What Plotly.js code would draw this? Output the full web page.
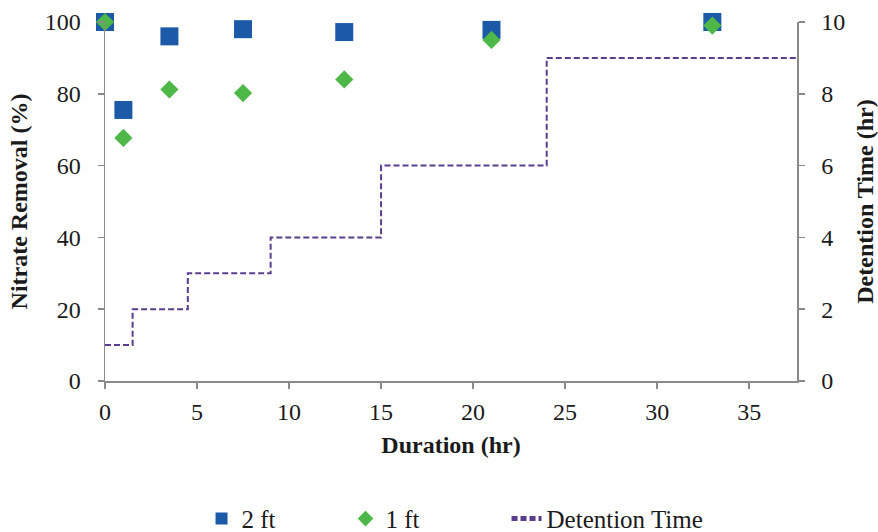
<!DOCTYPE html>
<html>
<head>
<meta charset="utf-8">
<script src="https://cdn.plot.ly/plotly-3.0.1.min.js"></script>
<style>html,body{margin:0;padding:0;background:#fff;}#chart{width:878px;height:532px;}</style>
</head>
<body>
<div id="chart"></div>
<script>
// Data
const durationHr = [0, 1, 3.5, 7.5, 13, 21, 33];
const removal2ft = [100, 75.5, 96, 98, 97.2, 97.8, 100];
const removal1ft = [100, 67.7, 81.2, 80.2, 84, 95, 99];
const detentionX = [0, 1.5, 4.5, 9, 15, 24, 37.6];
const detentionHr = [1, 2, 3, 4, 6, 9, 9];
const seriesNames = ['2 ft', '1 ft', 'Detention Time'];
const xTicks = [0, 5, 10, 15, 20, 25, 30, 35];
const yTicks = [0, 20, 40, 60, 80, 100];
const y2Ticks = [0, 2, 4, 6, 8, 10];

const font = "'Liberation Serif', 'Times New Roman', serif";
const axisColor = '#8a8a8a';
const textColor = '#1a1a1a';

const traces = [
  {
    x: durationHr, y: removal2ft, name: seriesNames[0], type: 'scatter', mode: 'markers',
    marker: {symbol: 'square', size: 18, color: '#1c5aa8'}, cliponaxis: false,
    legendwidth: 99
  },
  {
    x: durationHr, y: removal1ft, name: seriesNames[1], type: 'scatter', mode: 'markers',
    marker: {symbol: 'diamond', size: 14, color: '#4db848'}, cliponaxis: false,
    legendwidth: 116
  },
  {
    x: detentionX, y: detentionHr, name: seriesNames[2], type: 'scatter', mode: 'lines',
    yaxis: 'y2', line: {shape: 'hv', dash: '6px,3px', color: '#5a3d8f', width: 2}
  }
];

const axisBase = {
  showgrid: false, zeroline: false, showline: true, linecolor: axisColor, linewidth: 1.5,
  ticks: 'outside', ticklen: 6, tickcolor: axisColor, tickwidth: 1.5,
  tickfont: {family: font, size: 24, color: textColor}
};

const layout = {
  width: 878, height: 532,
  margin: {l: 105, r: 81, t: 22, b: 151, autoexpand: false},
  paper_bgcolor: '#fff', plot_bgcolor: '#fff',
  font: {family: font, size: 24, color: textColor},
  showlegend: true,
  legend: {orientation: 'h', x: 0.1395, xanchor: 'left', y: -0.384, yanchor: 'middle',
           font: {family: font, size: 25, color: textColor}, traceorder: 'normal',
           itemsizing: 'constant'},
  xaxis: Object.assign({}, axisBase, {
    range: [0, 37.6], tickvals: xTicks, ticklabelstandoff: 3,
    title: {text: '<b>Duration (hr)</b>', font: {family: font, size: 24}, standoff: 12}
  }),
  yaxis: Object.assign({}, axisBase, {
    range: [0, 100], tickvals: yTicks, ticklabelstandoff: 12,
    title: {text: '<b>Nitrate Removal (%)</b>', font: {family: font, size: 24}, standoff: 10}
  }),
  yaxis2: Object.assign({}, axisBase, {
    overlaying: 'y', side: 'right', range: [0, 10], tickvals: y2Ticks, ticklabelstandoff: 12,
    title: {text: '<b>Detention Time (hr)</b>', font: {family: font, size: 24}, standoff: 12}
  })
};

Plotly.newPlot('chart', traces, layout, {staticPlot: true, displayModeBar: false});
</script>
</body>
</html>
